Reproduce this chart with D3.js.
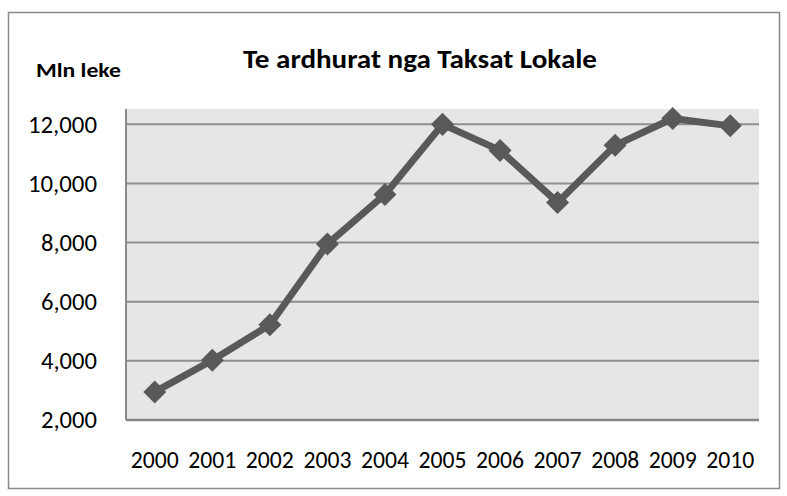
<!DOCTYPE html>
<html>
<head>
<meta charset="utf-8">
<script src="https://cdn.jsdelivr.net/npm/d3@7"></script>
<style>
  body { margin: 0; background: #fff; }
  svg { display: block; font-family: Carlito, Lato, sans-serif; }
</style>
</head>
<body>
<div id="graph"></div>
<script>
'use strict';
// data (million leke)
var years = ['2000', '2001', '2002', '2003', '2004', '2005', '2006', '2007', '2008', '2009', '2010'];
var revenue = [2950, 4020, 5220, 7950, 9630, 12000, 11120, 9360, 11290, 12200, 11950];
var yTicks = [2000, 4000, 6000, 8000, 10000, 12000];
var yMin = 2000;
var yMax = 12520;

var canvasWidth = 787;
var canvasHeight = 496;
// plot area
var margin = { top: 109, right: 28, bottom: 76, left: 126 };
var width = canvasWidth - margin.left - margin.right;
var height = canvasHeight - margin.top - margin.bottom;

var svg = d3.select('#graph')
  .append('svg')
  .attr('width', canvasWidth)
  .attr('height', canvasHeight);

// chart border
svg.append('rect')
  .attr('x', 8.5)
  .attr('y', 12.5)
  .attr('width', 771)
  .attr('height', 476)
  .attr('fill', '#fff')
  .attr('stroke', '#8a8a8a')
  .attr('stroke-width', 1.5);

var graphArea = svg.append('g')
  .attr('transform', 'translate(' + margin.left + ',' + margin.top + ')');

var xScale = d3.scaleBand().domain(years).range([0, width]);
var yScale = d3.scaleLinear().domain([yMin, yMax]).range([height, 0]);

// grey plot background
graphArea.append('rect')
  .attr('width', width)
  .attr('height', height)
  .attr('fill', '#e6e6e6');

// horizontal gridlines
graphArea.selectAll('.grid')
  .data(yTicks.slice(1))
  .enter()
  .append('line')
  .attr('class', 'grid')
  .attr('x1', 0)
  .attr('x2', width)
  .attr('y1', function(d) { return yScale(d); })
  .attr('y2', function(d) { return yScale(d); })
  .attr('stroke', '#8e8e8e')
  .attr('stroke-width', 2);

// y axis
var yAxis = graphArea.append('g')
  .attr('font-size', 24)
  .call(d3.axisLeft(yScale).tickValues(yTicks).tickSize(0).tickPadding(29).tickFormat(d3.format(',')));
yAxis.attr('font-size', 24).attr('font-family', 'Carlito, Lato, sans-serif');
yAxis.select('.domain').remove();
yAxis.selectAll('text')
  .attr('fill', '#000')
  .attr('textLength', function(d) { return d >= 10000 ? 69 : 56; })
  .attr('lengthAdjust', 'spacingAndGlyphs');

// x axis
var xAxis = graphArea.append('g')
  .attr('transform', 'translate(0,' + height + ')')
  .call(d3.axisBottom(xScale).tickSize(0).tickPadding(31));
xAxis.attr('font-size', 24).attr('font-family', 'Carlito, Lato, sans-serif');
xAxis.select('.domain').remove();
xAxis.selectAll('text')
  .attr('fill', '#000')
  .attr('textLength', 48)
  .attr('lengthAdjust', 'spacingAndGlyphs');

// axis lines (left and bottom)
graphArea.append('line')
  .attr('x1', 0).attr('x2', 0)
  .attr('y1', 0).attr('y2', height)
  .attr('stroke', '#8a8a8a')
  .attr('stroke-width', 2);
graphArea.append('line')
  .attr('x1', 0).attr('x2', width)
  .attr('y1', height).attr('y2', height)
  .attr('stroke', '#868686')
  .attr('stroke-width', 2.5);

// the series line
var line = d3.line()
  .x(function(d, i) { return xScale(years[i]) + xScale.bandwidth() / 2; })
  .y(function(d) { return yScale(d); });

graphArea.append('path')
  .datum(revenue)
  .attr('d', line)
  .attr('fill', 'none')
  .attr('stroke', '#595959')
  .attr('stroke-width', 7)
  .attr('stroke-linejoin', 'round');

// diamond markers
graphArea.selectAll('.marker')
  .data(revenue)
  .enter()
  .append('path')
  .attr('class', 'marker')
  .attr('d', d3.symbol().type(d3.symbolSquare).size(265)())
  .attr('transform', function(d, i) {
    return 'translate(' + (xScale(years[i]) + xScale.bandwidth() / 2) + ',' + yScale(d) + ') rotate(45)';
  })
  .attr('fill', '#595959');

// title
svg.append('text')
  .attr('x', 243)
  .attr('y', 68)
  .attr('font-size', '27px')
  .attr('font-weight', 'bold')
  .attr('textLength', 354)
  .attr('lengthAdjust', 'spacingAndGlyphs')
  .text('Te ardhurat nga Taksat Lokale');

// unit label
svg.append('text')
  .attr('x', 36)
  .attr('y', 77)
  .attr('font-size', '20px')
  .attr('font-weight', 'bold')
  .attr('textLength', 85)
  .attr('lengthAdjust', 'spacingAndGlyphs')
  .text('Mln leke');
</script>
</body>
</html>
